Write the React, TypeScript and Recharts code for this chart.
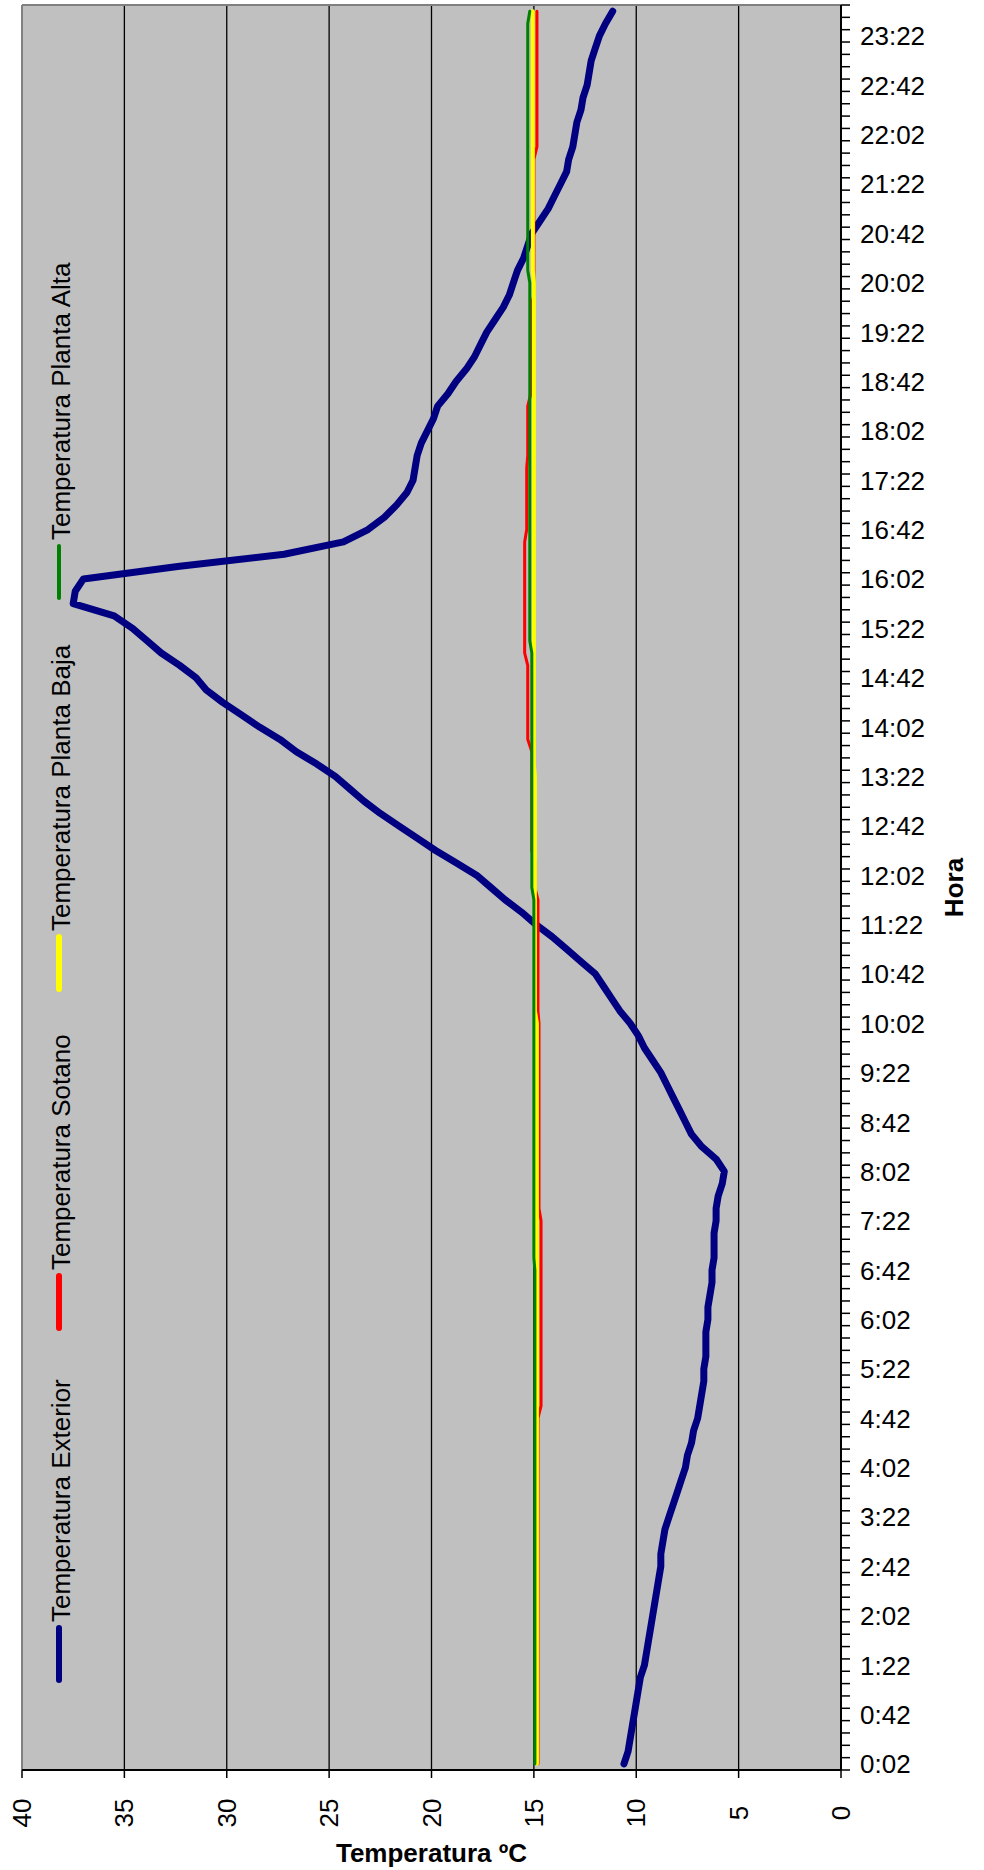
import React from 'react';
import { LineChart, Line, XAxis, YAxis, CartesianGrid, Legend, Customized, Label } from 'recharts';

const TIMES = [
  '0:02','0:12','0:22','0:32','0:42','0:52',
  '1:02','1:12','1:22','1:32','1:42','1:52',
  '2:02','2:12','2:22','2:32','2:42','2:52',
  '3:02','3:12','3:22','3:32','3:42','3:52',
  '4:02','4:12','4:22','4:32','4:42','4:52',
  '5:02','5:12','5:22','5:32','5:42','5:52',
  '6:02','6:12','6:22','6:32','6:42','6:52',
  '7:02','7:12','7:22','7:32','7:42','7:52',
  '8:02','8:12','8:22','8:32','8:42','8:52',
  '9:02','9:12','9:22','9:32','9:42','9:52',
  '10:02','10:12','10:22','10:32','10:42','10:52',
  '11:02','11:12','11:22','11:32','11:42','11:52',
  '12:02','12:12','12:22','12:32','12:42','12:52',
  '13:02','13:12','13:22','13:32','13:42','13:52',
  '14:02','14:12','14:22','14:32','14:42','14:52',
  '15:02','15:12','15:22','15:32','15:42','15:52',
  '16:02','16:12','16:22','16:32','16:42','16:52',
  '17:02','17:12','17:22','17:32','17:42','17:52',
  '18:02','18:12','18:22','18:32','18:42','18:52',
  '19:02','19:12','19:22','19:32','19:42','19:52',
  '20:02','20:12','20:22','20:32','20:42','20:52',
  '21:02','21:12','21:22','21:32','21:42','21:52',
  '22:02','22:12','22:22','22:32','22:42','22:52',
  '23:02','23:12','23:22','23:32','23:42',
];

const EXTERIOR = [
  10.6, 10.4, 10.3, 10.2, 10.1, 10.0,
  9.9, 9.8, 9.6, 9.5, 9.4, 9.3,
  9.2, 9.1, 9.0, 8.9, 8.8, 8.8,
  8.7, 8.6, 8.4, 8.2, 8.0, 7.8,
  7.6, 7.5, 7.3, 7.2, 7.0, 6.9,
  6.8, 6.7, 6.7, 6.6, 6.6, 6.6,
  6.5, 6.5, 6.4, 6.3, 6.3, 6.2,
  6.2, 6.2, 6.1, 6.1, 6.0, 5.8,
  5.7, 6.1, 6.8, 7.3, 7.6, 7.9,
  8.2, 8.5, 8.8, 9.2, 9.6, 9.9,
  10.3, 10.8, 11.2, 11.6, 12.0, 12.7,
  13.4, 14.1, 14.9, 15.6, 16.4, 17.1,
  17.8, 18.8, 19.8, 20.7, 21.6, 22.5,
  23.3, 24.0, 24.7, 25.6, 26.6, 27.4,
  28.4, 29.3, 30.2, 31.0, 31.5, 32.3,
  33.2, 33.9, 34.6, 35.5, 37.5, 37.4,
  37.0, 32.4, 27.2, 24.3, 23.1, 22.3,
  21.7, 21.2, 20.9, 20.8, 20.7, 20.5,
  20.2, 19.9, 19.7, 19.2, 18.8, 18.3,
  17.9, 17.6, 17.3, 16.9, 16.5, 16.2,
  16.0, 15.8, 15.5, 15.3, 15.1, 14.7,
  14.3, 14.0, 13.7, 13.4, 13.3, 13.1,
  13.0, 12.9, 12.7, 12.6, 12.4, 12.3,
  12.2, 12.0, 11.8, 11.5, 11.15,
];

const SOTANO = [
  14.8, 14.8, 14.8, 14.8, 14.8, 14.8,
  14.8, 14.8, 14.8, 14.8, 14.8, 14.8,
  14.8, 14.8, 14.8, 14.8, 14.8, 14.8,
  14.8, 14.8, 14.8, 14.8, 14.8, 14.8,
  14.8, 14.8, 14.8, 14.8, 14.8, 14.65,
  14.65, 14.65, 14.65, 14.65, 14.65, 14.65,
  14.65, 14.65, 14.65, 14.65, 14.65, 14.65,
  14.65, 14.65, 14.65, 14.75, 14.75, 14.75,
  14.75, 14.75, 14.75, 14.75, 14.75, 14.75,
  14.75, 14.75, 14.75, 14.75, 14.75, 14.75,
  14.75, 14.8, 14.8, 14.8, 14.8, 14.8,
  14.8, 14.8, 14.8, 14.8, 14.8, 14.95,
  14.95, 14.95, 15.1, 15.1, 15.1, 15.1,
  15.1, 15.1, 15.1, 15.1, 15.1, 15.3,
  15.3, 15.3, 15.3, 15.3, 15.3, 15.3,
  15.45, 15.45, 15.45, 15.45, 15.45, 15.45,
  15.45, 15.45, 15.45, 15.45, 15.35, 15.35,
  15.35, 15.35, 15.35, 15.35, 15.3, 15.3,
  15.3, 15.3, 15.3, 15.15, 15.15, 15.15,
  15.15, 15.15, 15.15, 15.15, 15.15, 15.0,
  15.0, 15.0, 15.0, 15.0, 15.0, 15.0,
  15.0, 15.0, 15.0, 15.0, 15.0, 14.85,
  14.85, 14.85, 14.85, 14.85, 14.85, 14.85,
  14.85, 14.85, 14.85, 14.85, 14.85,
];

const PLANTA_BAJA = [
  14.85, 14.85, 14.85, 14.85, 14.85, 14.85,
  14.85, 14.85, 14.85, 14.85, 14.85, 14.85,
  14.85, 14.85, 14.85, 14.85, 14.85, 14.85,
  14.85, 14.85, 14.85, 14.85, 14.85, 14.85,
  14.85, 14.85, 14.85, 14.85, 14.85, 14.85,
  14.85, 14.85, 14.85, 14.85, 14.85, 14.85,
  14.85, 14.85, 14.85, 14.85, 14.85, 14.85,
  14.85, 14.85, 14.85, 14.85, 14.85, 14.85,
  14.85, 14.85, 14.85, 14.85, 14.85, 14.85,
  14.85, 14.85, 14.85, 14.85, 14.85, 14.85,
  14.85, 14.95, 14.95, 14.95, 14.95, 14.95,
  14.95, 14.95, 14.95, 14.95, 14.95, 14.95,
  14.95, 14.95, 14.95, 14.95, 14.95, 14.95,
  14.95, 14.95, 14.95, 15.0, 15.0, 15.0,
  15.0, 15.0, 15.0, 15.0, 15.0, 15.0,
  15.0, 15.0, 15.0, 15.0, 15.0, 15.0,
  15.0, 15.0, 15.0, 15.0, 15.0, 15.0,
  15.0, 15.0, 15.0, 15.0, 15.0, 15.0,
  15.0, 15.0, 15.0, 15.0, 15.0, 15.0,
  15.0, 15.0, 15.0, 15.0, 15.0, 15.0,
  15.0, 15.05, 15.05, 15.05, 15.05, 15.05,
  15.05, 15.05, 15.05, 15.05, 15.05, 15.05,
  15.05, 15.05, 15.05, 15.05, 15.05, 15.05,
  15.05, 15.05, 15.05, 15.05, 15.05,
];

const PLANTA_ALTA = [
  14.95, 14.95, 14.95, 14.95, 14.95, 14.95,
  14.95, 14.95, 14.95, 14.95, 14.95, 14.95,
  14.95, 14.95, 14.95, 14.95, 14.95, 14.95,
  14.95, 14.95, 14.95, 14.95, 14.95, 14.95,
  14.95, 14.95, 14.95, 14.95, 14.95, 14.95,
  14.95, 14.95, 14.95, 14.95, 14.95, 14.95,
  14.95, 14.95, 14.95, 14.95, 14.95, 15.0,
  15.0, 15.0, 15.0, 15.0, 15.0, 15.0,
  15.0, 15.0, 15.0, 15.0, 15.0, 15.0,
  15.0, 15.0, 15.0, 15.0, 15.0, 15.0,
  15.0, 15.0, 15.0, 15.0, 15.0, 15.0,
  15.0, 15.0, 15.0, 15.0, 15.0, 15.1,
  15.1, 15.1, 15.1, 15.1, 15.1, 15.1,
  15.1, 15.1, 15.1, 15.1, 15.1, 15.1,
  15.1, 15.1, 15.1, 15.1, 15.1, 15.1,
  15.1, 15.2, 15.2, 15.2, 15.2, 15.2,
  15.2, 15.2, 15.2, 15.2, 15.2, 15.2,
  15.2, 15.2, 15.2, 15.2, 15.2, 15.2,
  15.2, 15.2, 15.2, 15.2, 15.2, 15.2,
  15.2, 15.2, 15.2, 15.2, 15.2, 15.2,
  15.2, 15.3, 15.3, 15.3, 15.3, 15.3,
  15.3, 15.3, 15.3, 15.3, 15.3, 15.3,
  15.3, 15.3, 15.3, 15.3, 15.3, 15.3,
  15.3, 15.3, 15.3, 15.3, 15.2,
];

const TEMP_TICKS = [0, 5, 10, 15, 20, 25, 30, 35, 40];
const GRID_VALUES = [5, 10, 15, 20, 25, 30, 35];

const SERIES = [
  { key: 'exterior', name: 'Temperatura Exterior', color: '#000080', width: 7, legendWidth: 6 },
  { key: 'sotano', name: 'Temperatura Sotano', color: '#FF0000', width: 3, legendWidth: 6 },
  { key: 'baja', name: 'Temperatura Planta Baja', color: '#FFFF00', width: 4, legendWidth: 6 },
  { key: 'alta', name: 'Temperatura Planta Alta', color: '#008000', width: 3, legendWidth: 4 },
];

const data = TIMES.map((t, i) => ({
  time: t,
  exterior: EXTERIOR[i],
  sotano: SOTANO[i],
  baja: PLANTA_BAJA[i],
  alta: PLANTA_ALTA[i],
}));

const W = 984;
const H = 1870;
const PLOT = { left: 22, right: 841, top: 5, bottom: 1770 };
const HALF_BAND = 6.17;
const FONT = '"Liberation Sans", Arial, sans-serif';
const LEGEND_LINE_BOTTOM = [1680, 1328, 989, 598];
const LEGEND_LINE_LEN = 52;

const TimeTick = (props: any) => {
  const { y, payload } = props;
  const idx = TIMES.indexOf(payload.value);
  const ax = PLOT.right;
  return (
    <g>
      <line x1={ax} x2={ax + 9} y1={y + HALF_BAND} y2={y + HALF_BAND} stroke="#000" strokeWidth={1.5} />
      {idx === TIMES.length - 1 && (
        <line x1={ax} x2={ax + 9} y1={y - HALF_BAND} y2={y - HALF_BAND} stroke="#000" strokeWidth={1.5} />
      )}
      {idx % 4 === 0 && (
        <text x={860} y={y + 9.5} fontSize={26} fontFamily={FONT} fill="#000">
          {payload.value}
        </text>
      )}
    </g>
  );
};

const TempTick = (props: any) => {
  const { x, payload } = props;
  const bx = x + 9;
  const cy = PLOT.bottom + 43;
  return (
    <text
      x={bx}
      y={cy}
      transform={`rotate(-90, ${bx}, ${cy})`}
      textAnchor="middle"
      fontSize={26}
      fontFamily={FONT}
      fill="#000"
    >
      {payload.value}
    </text>
  );
};

const renderLegend = (props: any) => {
  const payload = props.payload || [];
  return (
    <svg width={120} height={H} style={{ position: 'absolute', left: 0, top: 0, overflow: 'visible' }}>
      {payload.map((p: any, i: number) => {
        const si = SERIES.findIndex((s) => s.key === p.dataKey);
        const s = SERIES[si >= 0 ? si : i];
        const bottom = LEGEND_LINE_BOTTOM[si >= 0 ? si : i];
        const top = bottom - LEGEND_LINE_LEN;
        const textStart = top - 6;
        return (
          <g key={s.key}>
            <line x1={59} x2={59} y1={bottom} y2={top} stroke={s.color} strokeWidth={s.legendWidth} strokeLinecap="round" />
            <text
              x={70}
              y={textStart}
              transform={`rotate(-90, 70, ${textStart})`}
              textAnchor="start"
              fontSize={26}
              fontFamily={FONT}
              fill="#000"
            >
              {p.value}
            </text>
          </g>
        );
      })}
    </svg>
  );
};

const PlotBorder = () => (
  <g>
    <line x1={PLOT.left} x2={PLOT.right} y1={PLOT.top} y2={PLOT.top} stroke="#808080" strokeWidth={2} />
    <line x1={PLOT.left} x2={PLOT.left} y1={PLOT.top} y2={PLOT.bottom} stroke="#808080" strokeWidth={2} />
  </g>
);

export default function App() {
  return (
    <div style={{ position: 'absolute', left: 0, top: 0, width: W, height: H, background: '#fff' }}>
      <LineChart
        layout="vertical"
        width={W}
        height={H}
        data={data}
        margin={{ top: PLOT.top, right: 0, bottom: 0, left: PLOT.left }}
      >
        <CartesianGrid
          horizontal={false}
          vertical={true}
          verticalValues={GRID_VALUES}
          stroke="#000"
          strokeWidth={1.3}
          fill="#C0C0C0"
          fillOpacity={1}
        />
        <Customized component={PlotBorder} />
        <XAxis
          type="number"
          domain={[0, 40]}
          reversed
          ticks={TEMP_TICKS}
          interval={0}
          height={100}
          tickSize={8}
          tick={<TempTick />}
          axisLine={{ stroke: '#000', strokeWidth: 2 }}
          tickLine={{ stroke: '#000', strokeWidth: 1.5 }}
        >
          <Label
            content={() => (
              <text
                x={(PLOT.left + PLOT.right) / 2}
                y={1862}
                textAnchor="middle"
                fontSize={26}
                fontWeight="bold"
                fontFamily={FONT}
                fill="#000"
              >
                Temperatura ºC
              </text>
            )}
          />
        </XAxis>
        <YAxis
          type="category"
          dataKey="time"
          orientation="right"
          reversed
          width={W - PLOT.right}
          interval={0}
          padding={{ top: HALF_BAND, bottom: HALF_BAND }}
          tick={<TimeTick />}
          tickLine={false}
          axisLine={{ stroke: '#000', strokeWidth: 2 }}
        >
          <Label
            content={() => (
              <text
                x={963}
                y={(PLOT.top + PLOT.bottom) / 2}
                transform={`rotate(-90, 963, ${(PLOT.top + PLOT.bottom) / 2})`}
                textAnchor="middle"
                fontSize={26}
                fontWeight="bold"
                fontFamily={FONT}
                fill="#000"
              >
                Hora
              </text>
            )}
          />
        </YAxis>
        <Legend
          layout="horizontal"
          verticalAlign="middle"
          align="center"
          content={renderLegend}
          wrapperStyle={{ left: 0, top: 0, width: 120, height: H, position: 'absolute' }}
        />
        {SERIES.map((s) => (
          <Line
            key={s.key}
            type="linear"
            dataKey={s.key}
            name={s.name}
            stroke={s.color}
            strokeWidth={s.width}
            dot={false}
            isAnimationActive={false}
            strokeLinejoin="round"
            strokeLinecap="round"
          />
        ))}
      </LineChart>
    </div>
  );
}
